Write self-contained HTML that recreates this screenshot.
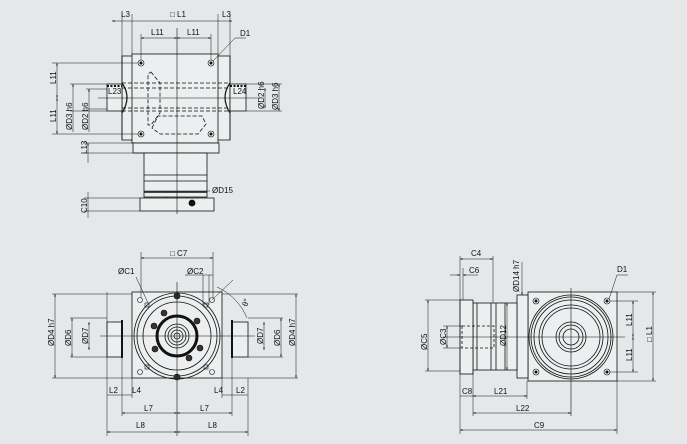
<!DOCTYPE html>
<html><head><meta charset="utf-8"><style>
html,body{margin:0;padding:0;background:#e6e7e9;}
svg{display:block}
text{font-family:"Liberation Sans",sans-serif;font-size:8px;fill:#111}
</style></head><body>
<svg width="687" height="444" viewBox="0 0 687 444" xmlns="http://www.w3.org/2000/svg">
<defs>
<marker id="a" viewBox="0 0 6 6" refX="6" refY="3" markerWidth="5" markerHeight="5" orient="auto-start-reverse"><path d="M0,1 L6,3 L0,5z" fill="#111"/></marker>
</defs>
<rect width="687" height="444" fill="#e6e7e9"/>
<g stroke="#111" fill="none" stroke-width="0.8">
<!-- ===== TOP VIEW ===== -->
<rect x="122" y="56" width="108" height="84" fill="#eceeef"/>
<rect x="132" y="54" width="86" height="89" fill="#eceeef"/>
<line x1="122" y1="56" x2="122" y2="140"/>
<line x1="230" y1="56" x2="230" y2="140"/>
<rect x="107" y="84" width="15" height="27" fill="#eceeef"/>
<rect x="230" y="84" width="16" height="27" fill="#eceeef"/>
<path d="M122,83 Q132,97 122,113" stroke-width="1.2"/>
<path d="M230,83 Q220,97 230,113" stroke-width="1.2"/>
<line x1="107" y1="86" x2="122" y2="86" stroke-width="2" stroke-dasharray="2,1.5"/>
<line x1="230" y1="86" x2="246" y2="86" stroke-width="2" stroke-dasharray="2,1.5"/>
<g stroke-dasharray="4,2">
<line x1="122" y1="83" x2="230" y2="83"/><line x1="122" y1="111" x2="230" y2="111"/>
<line x1="122" y1="88" x2="230" y2="88"/><line x1="122" y1="108" x2="230" y2="108"/>
<path d="M151,72 L160,83 L160,113 L151,125 L148,125 L148,74z"/>
<path d="M152,128 L158,116 L202,116 L206,124 L198,134 L160,134z"/>
<line x1="167" y1="182" x2="167" y2="211"/><line x1="187" y1="182" x2="187" y2="211"/>
</g>
<g stroke-width="0.6">
<circle cx="141" cy="63" r="3"/><circle cx="141" cy="63" r="1.2" fill="#111"/>
<circle cx="211" cy="63" r="3"/><circle cx="211" cy="63" r="1.2" fill="#111"/>
<circle cx="141" cy="134" r="3"/><circle cx="141" cy="134" r="1.2" fill="#111"/>
<circle cx="211" cy="134" r="3"/><circle cx="211" cy="134" r="1.2" fill="#111"/>
</g>
<rect x="133" y="143" width="86" height="10" fill="#eceeef"/>
<rect x="144" y="153" width="63" height="44" fill="#eceeef"/>
<line x1="144" y1="175" x2="207" y2="175"/><line x1="144" y1="181" x2="207" y2="181"/>
<line x1="144" y1="192" x2="207" y2="192" stroke-width="1.5"/>
<rect x="140" y="198" width="74" height="13" fill="#eceeef"/>
<circle cx="192" cy="203" r="3" fill="#111"/>
<line x1="177" y1="28" x2="177" y2="214" stroke-width="0.6"/>
<line x1="98" y1="98" x2="260" y2="98" stroke-width="0.6"/>
<!-- top dims -->
<line x1="112" y1="21" x2="232" y2="21" marker-start="url(#a)" marker-end="url(#a)" stroke-width="0.5"/>
<g stroke-width="0.5">
<line x1="122" y1="14" x2="122" y2="56"/><line x1="132" y1="14" x2="132" y2="54"/>
<line x1="218" y1="14" x2="218" y2="54"/><line x1="230" y1="14" x2="230" y2="56"/>
<line x1="141" y1="34" x2="141" y2="60"/><line x1="211" y1="34" x2="211" y2="60"/>
<line x1="141" y1="38" x2="177" y2="38" marker-start="url(#a)" marker-end="url(#a)"/>
<line x1="177" y1="38" x2="211" y2="38" marker-start="url(#a)" marker-end="url(#a)"/>
<line x1="213" y1="61" x2="235" y2="38"/><line x1="235" y1="38" x2="246" y2="38"/>
<line x1="52" y1="63" x2="138" y2="63"/><line x1="52" y1="134" x2="138" y2="134"/>
<line x1="57" y1="63" x2="57" y2="98" marker-start="url(#a)" marker-end="url(#a)"/>
<line x1="57" y1="98" x2="57" y2="134" marker-start="url(#a)" marker-end="url(#a)"/>
<line x1="70" y1="84" x2="107" y2="84"/><line x1="70" y1="111" x2="107" y2="111"/>
<line x1="73" y1="84" x2="73" y2="132" marker-start="url(#a)"/>
<line x1="89" y1="89" x2="89" y2="132" marker-start="url(#a)"/>
<line x1="86" y1="89" x2="107" y2="89"/><line x1="86" y1="109" x2="107" y2="109"/>
<line x1="246" y1="84" x2="282" y2="84"/><line x1="246" y1="111" x2="282" y2="111"/>
<line x1="279" y1="84" x2="279" y2="111" marker-start="url(#a)" marker-end="url(#a)"/>
<line x1="265" y1="88" x2="265" y2="108" marker-start="url(#a)" marker-end="url(#a)"/>
<line x1="84" y1="143" x2="133" y2="143"/><line x1="84" y1="153" x2="144" y2="153"/>
<line x1="88" y1="143" x2="88" y2="163" marker-start="url(#a)"/>
<line x1="84" y1="198" x2="140" y2="198"/><line x1="84" y1="211" x2="140" y2="211"/>
<line x1="88" y1="192" x2="88" y2="218"/>
<line x1="144" y1="191" x2="210" y2="191"/>
</g>
<!-- ===== BOTTOM LEFT VIEW ===== -->
<rect x="132" y="292" width="90" height="86" fill="#eceeef"/>
<rect x="107" y="322" width="15" height="35" fill="#eceeef"/>
<rect x="232" y="322" width="16" height="35" fill="#eceeef"/>
<line x1="122" y1="320" x2="122" y2="358" stroke-width="2"/>
<line x1="232" y1="320" x2="232" y2="358" stroke-width="2"/>
<line x1="107" y1="292" x2="107" y2="378" stroke-width="0.5"/>
<circle cx="177" cy="336" r="43"/>
<circle cx="177" cy="336" r="40"/>
<circle cx="177" cy="336" r="34"/>
<circle cx="177" cy="336" r="20" stroke-width="3"/>
<circle cx="177" cy="336" r="12"/>
<circle cx="177" cy="336" r="9"/><circle cx="177" cy="336" r="6"/><circle cx="177" cy="336" r="3"/>
<g fill="#333" stroke-width="0.6">
<circle cx="164" cy="313" r="3"/><circle cx="197" cy="321" r="3"/><circle cx="154" cy="326" r="3"/>
<circle cx="200" cy="348" r="3"/><circle cx="155" cy="349" r="3"/><circle cx="189" cy="358" r="3"/>
<circle cx="177" cy="296" r="3"/><circle cx="177" cy="377" r="3"/>
</g>
<g stroke-width="0.6">
<rect x="145" y="303" width="4" height="4"/><rect x="204" y="303" width="4" height="4"/>
<rect x="145" y="365" width="4" height="4"/><rect x="204" y="365" width="4" height="4"/>
<circle cx="140" cy="300" r="2.5"/><circle cx="212" cy="300" r="2.5"/>
<circle cx="140" cy="372" r="2.5"/><circle cx="212" cy="372" r="2.5"/>
</g>
<line x1="177" y1="282" x2="177" y2="436" stroke-width="0.6"/>
<line x1="100" y1="336" x2="255" y2="336" stroke-width="0.6"/>
<g stroke-width="0.5">
<line x1="141" y1="252" x2="141" y2="298"/><line x1="213" y1="252" x2="213" y2="298"/>
<line x1="141" y1="258" x2="213" y2="258" marker-start="url(#a)" marker-end="url(#a)"/>
<line x1="203" y1="275" x2="203" y2="305"/><line x1="209" y1="275" x2="209" y2="305"/>
<line x1="185" y1="275" x2="213" y2="275"/>
<line x1="136" y1="277" x2="148" y2="303"/>
<line x1="212" y1="300" x2="233" y2="280"/>
<path d="M217,287 A58,58 0 0 1 247,318"/>
<line x1="52" y1="294" x2="132" y2="294"/><line x1="52" y1="378" x2="132" y2="378"/>
<line x1="55" y1="294" x2="55" y2="378" marker-start="url(#a)" marker-end="url(#a)"/>
<line x1="70" y1="318" x2="107" y2="318"/><line x1="70" y1="357" x2="107" y2="357"/>
<line x1="72" y1="318" x2="72" y2="357" marker-start="url(#a)" marker-end="url(#a)"/>
<line x1="89" y1="322" x2="89" y2="350" marker-start="url(#a)" marker-end="url(#a)"/>
<line x1="222" y1="294" x2="298" y2="294"/><line x1="222" y1="378" x2="298" y2="378"/>
<line x1="296" y1="294" x2="296" y2="378" marker-start="url(#a)" marker-end="url(#a)"/>
<line x1="248" y1="318" x2="283" y2="318"/><line x1="248" y1="357" x2="283" y2="357"/>
<line x1="281" y1="318" x2="281" y2="357" marker-start="url(#a)" marker-end="url(#a)"/>
<line x1="264" y1="322" x2="264" y2="350" marker-start="url(#a)" marker-end="url(#a)"/>
<line x1="107" y1="378" x2="107" y2="436"/><line x1="122" y1="358" x2="122" y2="416"/>
<line x1="132" y1="378" x2="132" y2="398"/><line x1="222" y1="378" x2="222" y2="398"/>
<line x1="232" y1="358" x2="232" y2="416"/><line x1="248" y1="378" x2="248" y2="436"/>
<line x1="107" y1="395" x2="122" y2="395"/><line x1="122" y1="395" x2="132" y2="395"/>
<line x1="222" y1="395" x2="232" y2="395"/><line x1="232" y1="395" x2="248" y2="395"/>
<line x1="122" y1="413" x2="177" y2="413" marker-start="url(#a)" marker-end="url(#a)"/>
<line x1="177" y1="413" x2="232" y2="413" marker-start="url(#a)" marker-end="url(#a)"/>
<line x1="107" y1="432" x2="177" y2="432" marker-start="url(#a)" marker-end="url(#a)"/>
<line x1="177" y1="432" x2="248" y2="432" marker-start="url(#a)" marker-end="url(#a)"/>
</g>
<!-- ===== BOTTOM RIGHT VIEW ===== -->
<rect x="528" y="292" width="89" height="89" fill="#eceeef"/>
<rect x="517" y="295" width="11" height="83" fill="#eceeef"/>
<rect x="473" y="303" width="44" height="67" fill="#eceeef"/>
<line x1="477" y1="303" x2="477" y2="370"/><line x1="491" y1="303" x2="491" y2="370"/>
<line x1="496" y1="303" x2="496" y2="370"/><line x1="505" y1="303" x2="505" y2="370"/>
<rect x="460" y="300" width="13" height="74" fill="#eceeef"/>
<rect x="462" y="326" width="32" height="22" stroke-dasharray="3,2" fill="none"/>
<circle cx="571" cy="337" r="42"/><circle cx="571" cy="337" r="40"/>
<circle cx="571" cy="337" r="37"/><circle cx="571" cy="337" r="32"/><circle cx="571" cy="337" r="29"/>
<circle cx="571" cy="337" r="15"/><circle cx="571" cy="337" r="12"/><circle cx="571" cy="337" r="8"/>
<g stroke-width="0.6">
<circle cx="536" cy="301" r="3"/><circle cx="536" cy="301" r="1.2" fill="#111"/>
<circle cx="607" cy="301" r="3"/><circle cx="607" cy="301" r="1.2" fill="#111"/>
<circle cx="536" cy="372" r="3"/><circle cx="536" cy="372" r="1.2" fill="#111"/>
<circle cx="607" cy="372" r="3"/><circle cx="607" cy="372" r="1.2" fill="#111"/>
</g>
<line x1="571" y1="288" x2="571" y2="416" stroke-width="0.6"/>
<line x1="443" y1="337" x2="625" y2="337" stroke-width="0.6"/>
<g stroke-width="0.5">
<line x1="460" y1="256" x2="460" y2="434"/><line x1="493" y1="256" x2="493" y2="303"/>
<line x1="460" y1="259" x2="493" y2="259" marker-start="url(#a)" marker-end="url(#a)"/>
<line x1="463" y1="268" x2="463" y2="300"/>
<line x1="450" y1="275" x2="460" y2="275" marker-end="url(#a)"/><line x1="463" y1="275" x2="478" y2="275" marker-start="url(#a)"/>
<line x1="425" y1="300" x2="460" y2="300"/><line x1="425" y1="371" x2="460" y2="371"/>
<line x1="428" y1="300" x2="428" y2="371" marker-start="url(#a)" marker-end="url(#a)"/>
<line x1="443" y1="326" x2="462" y2="326"/><line x1="443" y1="348" x2="462" y2="348"/>
<line x1="447" y1="326" x2="447" y2="348" marker-start="url(#a)" marker-end="url(#a)"/>
<line x1="507" y1="303" x2="507" y2="370" marker-start="url(#a)" marker-end="url(#a)"/>
<line x1="522" y1="295" x2="522" y2="262" marker-start="url(#a)"/>
<line x1="473" y1="370" x2="473" y2="416"/><line x1="527" y1="381" x2="527" y2="399"/>
<line x1="617" y1="381" x2="617" y2="434"/>
<line x1="473" y1="396" x2="527" y2="396" marker-start="url(#a)" marker-end="url(#a)"/>
<line x1="473" y1="413" x2="571" y2="413" marker-start="url(#a)" marker-end="url(#a)"/>
<line x1="460" y1="430" x2="617" y2="430" marker-start="url(#a)" marker-end="url(#a)"/>
<line x1="460" y1="396" x2="473" y2="396"/>
<line x1="609" y1="299" x2="617" y2="275"/><line x1="617" y1="275" x2="628" y2="275"/>
<line x1="610" y1="301" x2="638" y2="301"/><line x1="610" y1="372" x2="638" y2="372"/>
<line x1="617" y1="292" x2="656" y2="292"/><line x1="617" y1="381" x2="656" y2="381"/>
<line x1="633" y1="301" x2="633" y2="337" marker-start="url(#a)" marker-end="url(#a)"/>
<line x1="633" y1="337" x2="633" y2="372" marker-start="url(#a)" marker-end="url(#a)"/>
<line x1="653" y1="292" x2="653" y2="381" marker-start="url(#a)" marker-end="url(#a)"/>
</g>
</g>
<!-- Labels -->
<text x="121" y="17">L3</text><text x="170" y="17">□ L1</text><text x="222" y="17">L3</text>
<text x="151" y="35">L11</text><text x="187" y="35">L11</text><text x="240" y="36">D1</text>
<g transform="translate(56,84) rotate(-90)"><text>L11</text></g>
<g transform="translate(56,122) rotate(-90)"><text>L11</text></g>
<g transform="translate(72,130) rotate(-90)"><text>ØD3 h6</text></g>
<g transform="translate(88,130) rotate(-90)"><text>ØD2 h6</text></g>
<g transform="translate(264,109) rotate(-90)"><text>ØD2 h6</text></g>
<g transform="translate(278,110) rotate(-90)"><text>ØD3 h6</text></g>
<g transform="translate(87,154) rotate(-90)"><text>L13</text></g>
<g transform="translate(87,213) rotate(-90)"><text>C10</text></g>
<text x="108" y="94" font-size="7">L23</text><text x="233" y="94" font-size="7">L24</text>
<text x="212" y="193">ØD15</text>
<text x="170" y="256">□ C7</text><text x="118" y="274">ØC1</text><text x="187" y="274">ØC2</text>
<g transform="translate(247,307) rotate(-70)"><text>θ°</text></g>
<g transform="translate(54,346) rotate(-90)"><text>ØD4 h7</text></g>
<g transform="translate(71,346) rotate(-90)"><text>ØD6</text></g>
<g transform="translate(88,344) rotate(-90)"><text>ØD7</text></g>
<g transform="translate(263,344) rotate(-90)"><text>ØD7</text></g>
<g transform="translate(280,346) rotate(-90)"><text>ØD6</text></g>
<g transform="translate(295,346) rotate(-90)"><text>ØD4 h7</text></g>
<text x="109" y="393">L2</text><text x="132" y="393">L4</text><text x="214" y="393">L4</text><text x="236" y="393">L2</text>
<text x="144" y="411">L7</text><text x="200" y="411">L7</text>
<text x="136" y="428">L8</text><text x="208" y="428">L8</text>
<text x="471" y="256">C4</text><text x="469" y="273">C6</text><text x="617" y="272">D1</text>
<g transform="translate(427,350) rotate(-90)"><text>ØC5</text></g>
<g transform="translate(446,345) rotate(-90)"><text>ØC3</text></g>
<g transform="translate(506,346) rotate(-90)"><text>ØD12</text></g>
<g transform="translate(519,292) rotate(-90)"><text>ØD14 h7</text></g>
<g transform="translate(632,326) rotate(-90)"><text>L11</text></g>
<g transform="translate(632,361) rotate(-90)"><text>L11</text></g>
<g transform="translate(652,342) rotate(-90)"><text>□ L1</text></g>
<text x="462" y="394">C8</text><text x="494" y="394">L21</text><text x="516" y="411">L22</text><text x="534" y="428">C9</text>
</svg>
</body></html>
